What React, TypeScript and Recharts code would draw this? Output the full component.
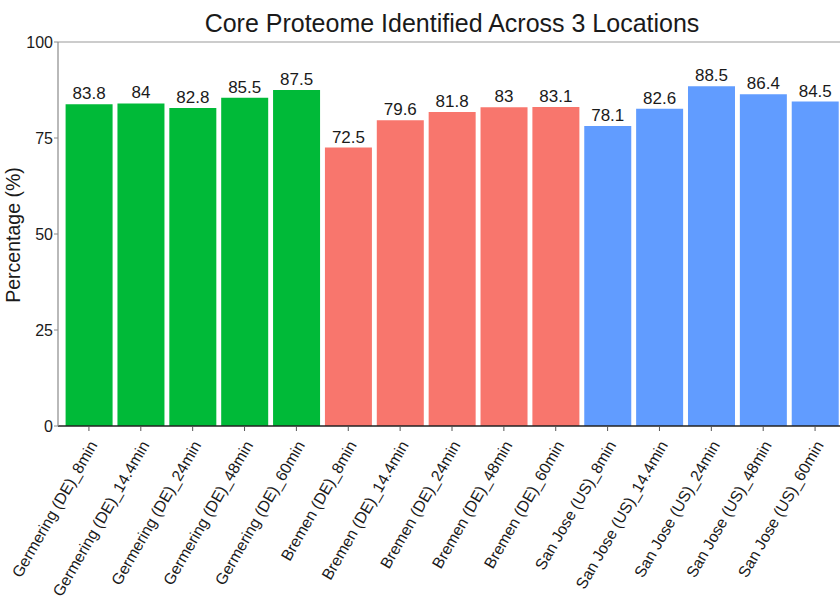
import React from 'react'
import { Bar, BarChart, Cell, LabelList, ReferenceLine, XAxis, YAxis } from 'recharts'

const categories = [
  'Germering (DE)_8min',
  'Germering (DE)_14.4min',
  'Germering (DE)_24min',
  'Germering (DE)_48min',
  'Germering (DE)_60min',
  'Bremen (DE)_8min',
  'Bremen (DE)_14.4min',
  'Bremen (DE)_24min',
  'Bremen (DE)_48min',
  'Bremen (DE)_60min',
  'San Jose (US)_8min',
  'San Jose (US)_14.4min',
  'San Jose (US)_24min',
  'San Jose (US)_48min',
  'San Jose (US)_60min'
]
const percentages = [83.8, 84, 82.8, 85.5, 87.5, 72.5, 79.6, 81.8, 83, 83.1, 78.1, 82.6, 88.5, 86.4, 84.5]
const locations = [
  'Germering', 'Germering', 'Germering', 'Germering', 'Germering',
  'Bremen', 'Bremen', 'Bremen', 'Bremen', 'Bremen',
  'San Jose', 'San Jose', 'San Jose', 'San Jose', 'San Jose'
]
const yTicks = [0, 25, 50, 75, 100]

const locationColors: Record<string, string> = {
  Germering: '#00BA38',
  Bremen: '#F8766D',
  'San Jose': '#619CFF'
}

const FONT = '"Liberation Sans", Arial, sans-serif'

const chartData = categories.map((name, i) => ({ name, value: percentages[i], location: locations[i] }))

interface TickProps {
  x?: number
  y?: number
  payload?: { value: string }
}

function AngledTick({ x = 0, y = 0, payload }: TickProps) {
  return (
    <g transform={`translate(${x + 9},${y + 12})`}>
      <text transform="rotate(-60)" textAnchor="end" fontSize={15.8} fill="#1a1a1a" fontFamily={FONT}>
        {payload?.value}
      </text>
    </g>
  )
}

export default function App() {
  return (
    <div
      style={{
        position: 'absolute',
        left: 0,
        top: 0,
        width: 840,
        height: 597,
        overflow: 'hidden',
        background: '#fff',
        fontFamily: FONT
      }}
    >
      <BarChart
        width={850}
        height={597}
        data={chartData}
        margin={{ top: 42, right: 4, left: 0, bottom: 0 }}
        barCategoryGap="5%"
      >
        <ReferenceLine y={100} stroke="#9a9a9a" strokeWidth={1.2} />
        <XAxis
          dataKey="name"
          interval={0}
          height={171}
          padding={{ left: 5, right: 5 }}
          tick={<AngledTick />}
          tickSize={5}
          axisLine={{ stroke: '#222', strokeWidth: 1.5 }}
          tickLine={{ stroke: '#555' }}
        />
        <YAxis
          type="number"
          domain={[0, 100]}
          ticks={yTicks}
          width={58}
          tickSize={4}
          tickMargin={1}
          tick={{ fontSize: 16, fill: '#1a1a1a', fontFamily: FONT }}
          axisLine={{ stroke: '#8a8a8a', strokeWidth: 1.2 }}
          tickLine={{ stroke: '#8a8a8a' }}
        />
        <Bar dataKey="value" isAnimationActive={false}>
          {chartData.map((row) => (
            <Cell key={row.name} fill={locationColors[row.location]} />
          ))}
          <LabelList dataKey="value" position="top" offset={5} fontSize={17} fill="#1a1a1a" fontFamily={FONT} />
        </Bar>
      </BarChart>
      <svg width={840} height={597} style={{ position: 'absolute', left: 0, top: 0, pointerEvents: 'none' }}>
        <text x={452} y={32} textAnchor="middle" fontSize={25} fill="#1a1a1a" fontFamily={FONT}>
          Core Proteome Identified Across 3 Locations
        </text>
        <text
          x={20}
          y={235}
          transform="rotate(-90, 20, 235)"
          textAnchor="middle"
          fontSize={19.5}
          fill="#1a1a1a"
          fontFamily={FONT}
        >
          Percentage (%)
        </text>
      </svg>
    </div>
  )
}
